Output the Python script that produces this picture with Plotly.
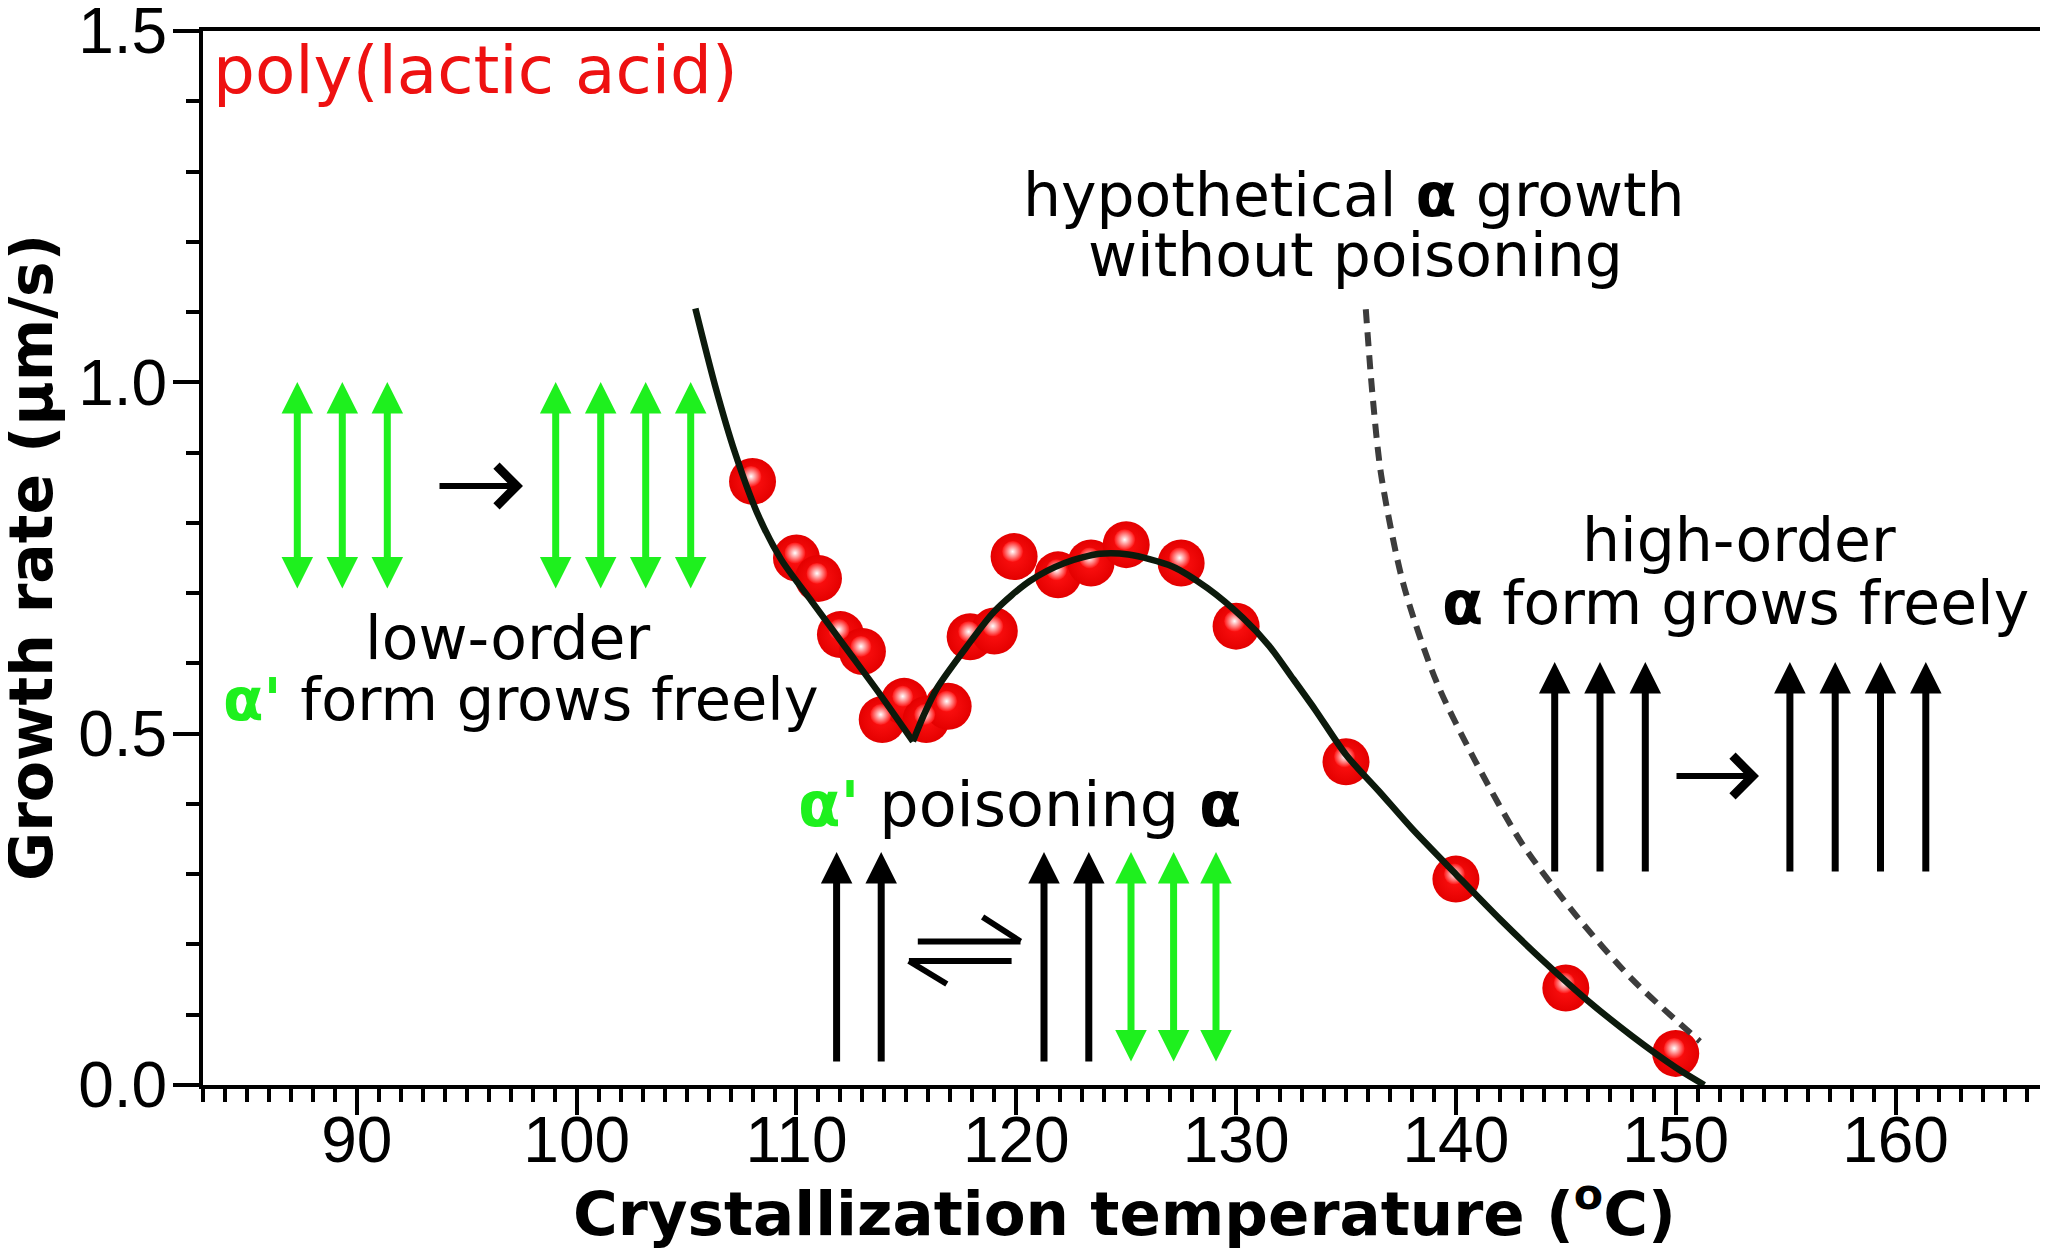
import plotly.graph_objects as go

# ---------------- data ----------------
temp_c = [108.0, 110.0, 111.0, 112.0, 113.0, 113.9, 114.9, 115.9, 116.9, 117.9,
          119.0, 119.9, 121.9, 123.4, 125.0, 127.5, 130.0, 135.0, 140.0, 145.0, 150.0]
growth_rate = [0.859, 0.750, 0.721, 0.641, 0.617, 0.520, 0.546, 0.520, 0.539, 0.638,
               0.646, 0.752, 0.726, 0.743, 0.769, 0.743, 0.653, 0.460, 0.293, 0.138, 0.045]

# fitted curve, low-order (alpha') branch and alpha branch
fit_low_t = [105.4, 106.3, 107.2, 108.2, 109.3, 110.7, 112.2, 113.8, 115.3]
fit_low_r = [1.105, 0.995, 0.900, 0.815, 0.748, 0.688, 0.624, 0.556, 0.489]
fit_high_t = [115.3, 115.8, 116.4, 117.7, 119.0, 120.6, 122.2, 123.8, 125.1, 127.1,
              128.7, 130.3, 131.5, 132.5, 133.6, 135.0, 136.5, 138.0, 140.0, 142.0,
              144.0, 146.0, 148.0, 150.0, 151.3]
fit_high_r = [0.489, 0.527, 0.565, 0.622, 0.674, 0.717, 0.743, 0.756, 0.755, 0.738,
              0.707, 0.665, 0.625, 0.582, 0.534, 0.470, 0.418, 0.365, 0.300, 0.236,
              0.176, 0.120, 0.070, 0.025, 0.000]

# hypothetical alpha growth without poisoning (dashed)
hyp_t = [135.9, 136.2, 136.6, 137.6, 139.1, 140.9, 143.0, 145.4, 148.0, 151.1]
hyp_r = [1.104, 0.984, 0.868, 0.714, 0.575, 0.460, 0.344, 0.244, 0.151, 0.062]

x_ticks = [90, 100, 110, 120, 130, 140, 150, 160]
y_ticks = [0.0, 0.5, 1.0, 1.5]
y_tick_text = ["0.0", "0.5", "1.0", "1.5"]

# ---------------- styling / layout ----------------
X_RANGE = [83.0, 166.8]
Y_RANGE = [0.0, 1.5]
L, R, T, B = 195, 11, 23, 176
W, H = 2048, 1253
PW, PH = W - L - R, H - T - B
PX_T = PW / (X_RANGE[1] - X_RANGE[0])
PX_R = PH / (Y_RANGE[1] - Y_RANGE[0])

GREEN = "#1ef01e"
RED_TXT = "#ee1111"
BLACK = "#000000"
CURVE = "#0c1a0c"
TXT_FONT = "DejaVu Sans"
TICK_FONT = "Liberation Sans, Arial, sans-serif"

fig = go.Figure()

# spheres
fig.add_trace(go.Scatter(
    x=temp_c, y=growth_rate, mode="markers", xaxis="x", yaxis="y",
    marker=dict(size=47, color="#e40000",
                gradient=dict(type="radial", color="#ff1212"),
                line=dict(width=0)),
    hoverinfo="skip"))
# specular highlights (same data, drawn on a slightly shifted overlay scale)
fig.add_trace(go.Scatter(
    x=temp_c, y=growth_rate, mode="markers", xaxis="x2", yaxis="y2",
    marker=dict(size=21, color="#ff1212",
                gradient=dict(type="radial", color="#ffffff"),
                line=dict(width=0)),
    hoverinfo="skip"))
# fitted curves on top
fig.add_trace(go.Scatter(
    x=fit_low_t, y=fit_low_r, mode="lines", xaxis="x3", yaxis="y3",
    line=dict(color=CURVE, width=6.5, shape="spline", smoothing=0.8)))
fig.add_trace(go.Scatter(
    x=fit_high_t, y=fit_high_r, mode="lines", xaxis="x3", yaxis="y3",
    line=dict(color=CURVE, width=6.5, shape="spline", smoothing=0.8)))
fig.add_trace(go.Scatter(
    x=hyp_t, y=hyp_r, mode="lines", xaxis="x3", yaxis="y3",
    line=dict(color="#3c3c3c", width=6, dash="14px,9px", shape="spline", smoothing=0.8)))

dx = 1.5 / PX_T
dy = 5.0 / PX_R

fig.update_layout(
    width=W, height=H,
    margin=dict(l=L, r=R, t=T, b=B, autoexpand=False),
    paper_bgcolor="white", plot_bgcolor="white",
    showlegend=False,
    font=dict(family=TXT_FONT, color=BLACK),
    xaxis=dict(range=X_RANGE, tickvals=x_ticks, ticks="outside", ticklen=26,
               tickwidth=4, tickcolor=BLACK, showline=True, linewidth=4,
               linecolor=BLACK, mirror=True, showgrid=False, zeroline=False,
               automargin=False,
               ticklabelstandoff=-30, ticklabeloverflow="allow",
               tickfont=dict(family=TICK_FONT, size=64, color=BLACK),
               minor=dict(dtick=1, tick0=0, ticks="outside", ticklen=13,
                          tickwidth=4, tickcolor=BLACK, showgrid=False)),
    yaxis=dict(range=Y_RANGE, tickvals=y_ticks, ticktext=y_tick_text,
               ticks="outside", ticklen=26, tickwidth=4, tickcolor=BLACK,
               showline=True, linewidth=4, linecolor=BLACK, mirror=True,
               showgrid=False, zeroline=False, automargin=False,
               ticklabelstandoff=-7, ticklabeloverflow="allow",
               tickfont=dict(family=TICK_FONT, size=64, color=BLACK),
               minor=dict(dtick=0.1, tick0=0, ticks="outside", ticklen=13,
                          tickwidth=4, tickcolor=BLACK, showgrid=False)),
    xaxis2=dict(range=[X_RANGE[0] + dx, X_RANGE[1] + dx], overlaying="x",
                visible=False, automargin=False),
    yaxis2=dict(range=[Y_RANGE[0] - dy, Y_RANGE[1] - dy], overlaying="y",
                visible=False, automargin=False),
    xaxis3=dict(range=X_RANGE, overlaying="x", visible=False, automargin=False),
    yaxis3=dict(range=Y_RANGE, overlaying="y", visible=False, automargin=False),
)

# axis titles
fig.add_annotation(xref="paper", yref="paper", x=0.5, y=(0 - 124) / PH,
                   xanchor="center", yanchor="middle", showarrow=False,
                   text="<b>Crystallization temperature (<sup>o</sup>C)</b>",
                   font=dict(family=TXT_FONT, size=61, color=BLACK))
fig.add_annotation(xref="paper", yref="paper", x=(23 - L) / PW, y=0.5,
                   xanchor="center", yanchor="middle", showarrow=False,
                   textangle=-90, text="<b>Growth rate (μm/s)</b>",
                   font=dict(family=TXT_FONT, size=60, color=BLACK))


def px2t(px):
    return X_RANGE[0] + (px - L) / PX_T


def py2r(py):
    return (T + PH - py) / PX_R


def label(text, cx, cy, size=60, color=BLACK, anchor="center"):
    fig.add_annotation(x=px2t(cx), y=py2r(cy), xref="x", yref="y",
                       xanchor=anchor, yanchor="middle", showarrow=False,
                       text=text, font=dict(family=TXT_FONT, size=size, color=color))


A_G = "<span style='color:%s'><b>α'</b></span>" % GREEN

label("poly(lactic acid)", 203, 62, size=66, color=RED_TXT, anchor="left")
label("hypothetical <b>α</b> growth", 1346, 187)
label("without poisoning", 1347, 247)
label("high-order", 1731, 532)
label("<b>α</b> form grows freely", 1727, 595)
label("low-order", 500, 630)
label(A_G + " form grows freely", 513, 691, size=59)
label(A_G + " poisoning <b>α</b>", 1012, 796, size=62)


def varrow(cx, ytip, ytail, color, double=False):
    fig.add_annotation(x=px2t(cx), y=py2r(ytip), ax=px2t(cx), ay=py2r(ytail),
                       xref="x", yref="y", axref="x", ayref="y", text="",
                       showarrow=True, arrowhead=2, arrowsize=0.9, arrowwidth=7,
                       arrowcolor=color, arrowside="end+start" if double else "end",
                       startarrowhead=2, startarrowsize=0.9, font=dict(size=1))


def harrow(x0, x1, y):
    fig.add_annotation(x=px2t(x1), y=py2r(y), ax=px2t(x0), ay=py2r(y),
                       xref="x", yref="y", axref="x", ayref="y", text="",
                       showarrow=True, arrowhead=4, arrowsize=1.3, arrowwidth=6,
                       arrowcolor=BLACK, font=dict(size=1))


# low-order alpha' group
for cx in [289.3, 334.3, 379.3, 547.7, 592.7, 637.7, 682.7]:
    varrow(cx, 374, 582, GREEN, double=True)
harrow(430, 515, 478)

# poisoning group
for cx in [828.6, 873.2, 1036.0, 1080.8]:
    varrow(cx, 844, 1055, BLACK)
for cx in [1123.0, 1165.6, 1208.0]:
    varrow(cx, 844, 1055, GREEN, double=True)

# equilibrium harpoons
for (x0, y0, x1, y1) in [(909.8, 933.4, 1012.5, 933.4), (1012.5, 933.4, 974.6, 909.0),
                         (900.9, 953.0, 1003.6, 953.0), (900.9, 953.0, 938.8, 976.0)]:
    fig.add_shape(type="line", xref="x", yref="y", x0=px2t(x0), y0=py2r(y0),
                  x1=px2t(x1), y1=py2r(y1), line=dict(color=BLACK, width=6),
                  layer="above")

# high-order alpha group
for cx in [1546.7, 1592.0, 1637.3, 1781.9, 1827.2, 1872.5, 1917.8]:
    varrow(cx, 654, 865, BLACK)
harrow(1667, 1751, 768)

fig.write_html("out.html")
